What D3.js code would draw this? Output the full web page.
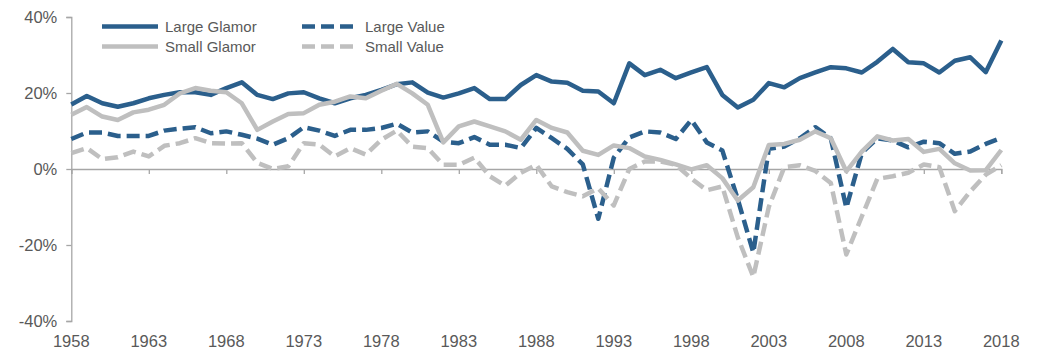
<!DOCTYPE html>
<html>
<head>
<meta charset="utf-8">
<script src="https://cdn.jsdelivr.net/npm/d3@7"></script>
<style>
  html, body { margin: 0; padding: 0; background: #fff; }
  svg { display: block; font-family: "Liberation Sans", Arial, sans-serif; }
</style>
</head>
<body>
<svg id="chart" width="1045" height="357"></svg>
<script>
const years = d3.range(1958, 2019);
const yearTicks = [1958, 1963, 1968, 1973, 1978, 1983, 1988, 1993, 1998, 2003, 2008, 2013, 2018];
const yTicks = [-40, -20, 0, 20, 40];

const largeGlamor = [17.0,19.2,17.3,16.4,17.3,18.6,19.5,20.2,20.2,19.5,21.3,22.8,19.5,18.4,19.9,20.2,18.6,17.3,18.6,19.5,20.8,22.3,22.8,20.1,18.8,19.9,21.3,18.4,18.4,22.1,24.7,23.0,22.7,20.6,20.4,17.3,27.8,24.7,26.1,23.9,25.4,26.8,19.5,16.2,18.2,22.6,21.5,23.9,25.4,26.8,26.5,25.4,28.2,31.6,28.1,27.8,25.4,28.5,29.4,25.5,33.8];
const largeValue = [7.9,9.6,9.6,8.7,8.7,8.7,10.1,10.6,11.0,9.4,9.9,9.0,8.0,6.4,8.1,11.0,10.1,8.7,10.3,10.3,10.8,11.9,9.6,9.9,7.2,6.8,8.4,6.4,6.4,5.5,10.8,8.1,5.3,1.2,-13.1,3.0,8.3,9.9,9.6,7.9,12.9,7.0,4.9,-8.0,-22.0,5.3,5.9,8.1,11.0,8.1,-10.2,4.2,8.1,7.5,5.7,7.2,6.8,4.0,4.6,6.6,8.2];
const smallGlamor = [14.3,16.3,13.8,12.9,14.9,15.6,16.9,19.9,21.3,20.6,20.2,17.3,10.3,12.5,14.5,14.7,16.9,17.7,19.1,18.6,20.6,22.4,19.9,16.9,7.0,11.2,12.5,11.2,9.9,7.7,12.9,10.8,9.6,4.8,3.7,6.2,5.5,3.3,2.4,1.2,-0.1,1.0,-2.4,-8.3,-4.8,6.3,6.6,7.7,9.9,8.1,-0.6,4.6,8.6,7.5,7.9,4.5,5.3,1.5,-0.4,-0.3,5.0];
const smallValue = [4.2,5.5,2.6,3.1,4.6,3.3,6.1,6.8,8.1,6.8,6.7,6.8,1.6,0.0,0.7,6.8,6.4,3.3,5.5,3.8,7.7,10.1,5.9,5.5,1.1,1.1,3.0,-1.9,-4.4,-1.0,1.1,-4.6,-6.1,-7.2,-5.1,-9.6,0.0,2.0,2.0,1.1,-2.5,-5.6,-4.6,-18.0,-28.4,-10.0,0.5,1.0,-0.5,-3.7,-22.5,-12.5,-2.6,-1.9,-1.0,1.2,0.5,-11.1,-5.9,-1.5,1.0];

const seriesNames = ["Large Glamor", "Large Value", "Small Glamor", "Small Value"];
const seriesValues = [largeGlamor, largeValue, smallGlamor, smallValue];

const BLUE = "#2B5F8C";
const GRAY = "#BFBFBF";
const styles = [
  { color: BLUE, dash: null },
  { color: BLUE, dash: "13,6" },
  { color: GRAY, dash: null },
  { color: GRAY, dash: "13,6" }
];

const svg = d3.select("#chart");
const x = d3.scaleLinear().domain([1958, 2018]).range([71.3, 1001.3]);
const y = d3.scaleLinear().domain([-40, 40]).range([321, 17]);

const textColor = "#595959";
const axisColor = "#A6A6A6";

// Left axis
const yAxis = d3.axisLeft(y).tickValues(yTicks).tickSize(5).tickPadding(9)
  .tickFormat(d => d + "%");
const gy = svg.append("g").attr("transform", `translate(${x(1958)},0)`).call(yAxis);
gy.select(".domain").attr("stroke", axisColor).attr("stroke-width", 1.3);
gy.selectAll(".tick line").attr("stroke", axisColor).attr("stroke-width", 1.3);
gy.selectAll(".tick text").attr("fill", textColor).style("font-size", "16.5px")
  .style("font-family", '"Liberation Sans", Arial, sans-serif');

// X axis along zero line
const xAxis = d3.axisBottom(x).tickValues(yearTicks).tickSize(5).tickFormat("");
const gx = svg.append("g").attr("transform", `translate(0,${y(0)})`).call(xAxis);
gx.select(".domain").attr("stroke", axisColor).attr("stroke-width", 1.3);
gx.selectAll(".tick line").attr("stroke", axisColor).attr("stroke-width", 1.3);

// Year labels at bottom
svg.append("g").selectAll("text").data(yearTicks).join("text")
  .attr("x", d => x(d))
  .attr("y", 347)
  .attr("text-anchor", "middle")
  .attr("fill", textColor)
  .style("font-size", "16.5px")
  .text(d => d);

// Lines
const line = d3.line().x((d, i) => x(years[i])).y(d => y(d)).curve(d3.curveLinear);
seriesValues.forEach((vals, k) => {
  svg.append("path")
    .datum(vals)
    .attr("fill", "none")
    .attr("stroke", styles[k].color)
    .attr("stroke-width", 4.5)
    .attr("stroke-linejoin", "round")
    .attr("stroke-dasharray", styles[k].dash)
    .attr("d", line);
});

// Legend
const legendPos = [
  { lx: 102, ly: 26.5 },
  { lx: 302, ly: 26.5 },
  { lx: 102, ly: 46.5 },
  { lx: 302, ly: 46.5 }
];
seriesNames.forEach((name, k) => {
  const p = legendPos[k];
  svg.append("line")
    .attr("x1", p.lx).attr("x2", p.lx + 56)
    .attr("y1", p.ly).attr("y2", p.ly)
    .attr("stroke", styles[k].color)
    .attr("stroke-width", 4.5)
    .attr("stroke-dasharray", styles[k].dash);
  svg.append("text")
    .attr("x", p.lx + 63)
    .attr("y", p.ly + 5.5)
    .attr("fill", textColor)
    .style("font-size", "15px")
    .text(name);
});
</script>
</body>
</html>
